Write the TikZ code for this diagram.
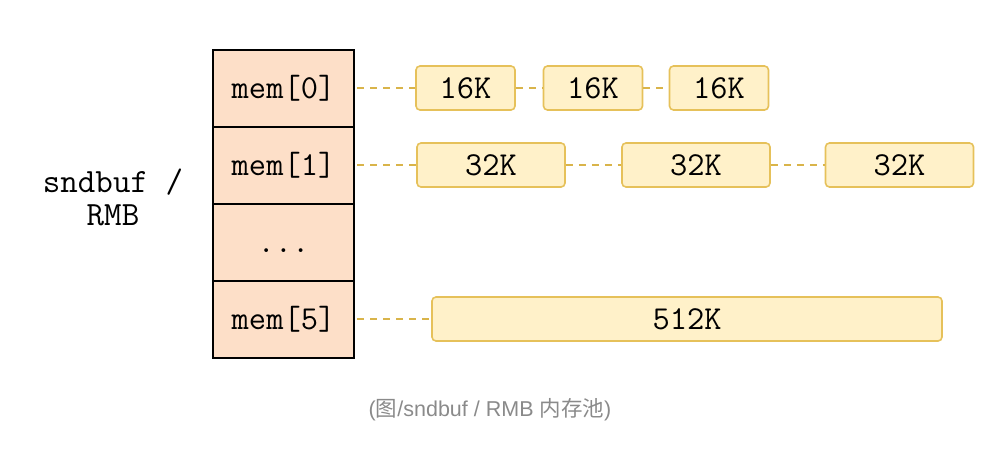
\documentclass[tikz,border=0pt]{standalone}
\usepackage{fontspec}
\newfontfamily\capsans{Liberation Sans}
\newfontfamily\cjk{Noto Sans CJK SC}
\definecolor{peach}{HTML}{FDDFC8}
\definecolor{boxfill}{HTML}{FFF1C9}
\definecolor{boxline}{HTML}{E6C15A}
\definecolor{dashc}{HTML}{D9B44A}
\definecolor{capgray}{HTML}{8A8A8A}
\begin{document}
\begin{tikzpicture}[x=1pt,y=-1pt,
  memcell/.style={draw=black,line width=2pt,fill=peach,minimum width=141pt,minimum height=77pt,inner sep=0pt,font=\ttfamily\fontsize{33.5}{34}\selectfont},
  blk/.style={draw=boxline,line width=1.6pt,fill=boxfill,rounded corners=4pt,minimum height=44pt,inner sep=0pt,font=\ttfamily\fontsize{33.5}{34}\selectfont},
  link/.style={draw=dashc,line width=1.6pt,dash pattern=on 7pt off 6pt}]
\useasboundingbox (0,0) rectangle (990,455);
% memory stack
\node[memcell] (m0) at (283.5,88) {mem[0]};
\node[memcell] (m1) at (283.5,165) {mem[1]};
\node[memcell] (m2) at (283.5,242) {\vphantom{mem[0]}...};
\node[memcell] (m5) at (283.5,319) {mem[5]};
% left label
\node[font=\ttfamily\fontsize{34}{33}\selectfont,align=center] (lbl) at (113,197) {sndbuf /\\RMB};
% row 0
\node[blk,minimum width=99pt] (a1) at (465.5,88) {16K};
\node[blk,minimum width=99pt] (a2) at (593,88) {16K};
\node[blk,minimum width=99pt] (a3) at (719,88) {16K};
% row 1
\node[blk,minimum width=148pt] (b1) at (491,165) {32K};
\node[blk,minimum width=148pt] (b2) at (696,165) {32K};
\node[blk,minimum width=148pt] (b3) at (899.5,165) {32K};
% row 3
\node[blk,minimum width=510pt] (c1) at (687,319) {512K};
% connectors
\draw[link] (m0.east) ++(2pt,0) -- (a1.west);
\draw[link] (a1.east) -- (a2.west);
\draw[link] (a2.east) -- (a3.west);
\draw[link] (m1.east) ++(2pt,0) -- (b1.west);
\draw[link] (b1.east) -- (b2.west);
\draw[link] (b2.east) -- (b3.west);
\draw[link] (m5.east) ++(2pt,0) -- (c1.west);
% caption
\node[font=\capsans\fontsize{21.5}{23}\selectfont,text=capgray] (cap) at (490,410) {({\cjk 图}/sndbuf / RMB {\cjk 内存池})};
\end{tikzpicture}
\end{document}
